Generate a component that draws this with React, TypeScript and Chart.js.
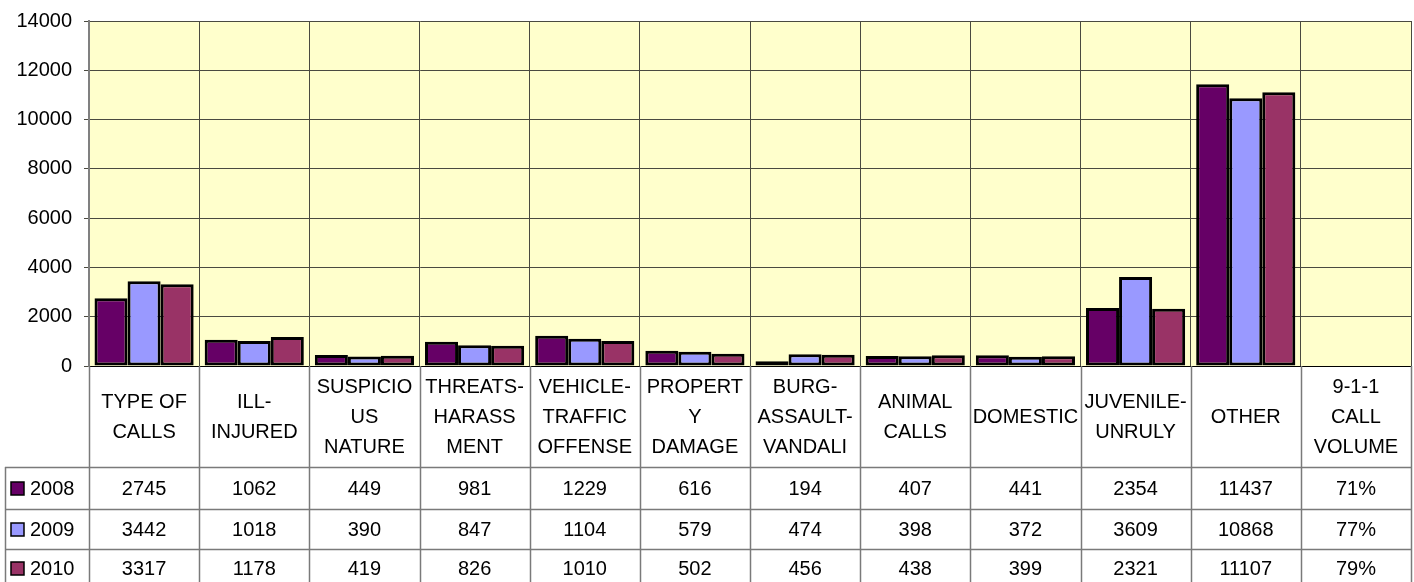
import React, { useEffect, useRef } from "react";
import { Chart, registerables } from "chart.js";

Chart.register(...registerables);

const categories: string[][] = [
  ["TYPE OF", "CALLS"],
  ["ILL-", "INJURED"],
  ["SUSPICIO", "US", "NATURE"],
  ["THREATS-", "HARASS", "MENT"],
  ["VEHICLE-", "TRAFFIC", "OFFENSE"],
  ["PROPERT", "Y", "DAMAGE"],
  ["BURG-", "ASSAULT-", "VANDALI"],
  ["ANIMAL", "CALLS"],
  ["DOMESTIC"],
  ["JUVENILE-", "UNRULY"],
  ["OTHER"],
  ["9-1-1", "CALL", "VOLUME"],
];

const seriesNames = ["2008", "2009", "2010"];
const values2008: (number | null)[] = [2745, 1062, 449, 981, 1229, 616, 194, 407, 441, 2354, 11437, null];
const values2009: (number | null)[] = [3442, 1018, 390, 847, 1104, 579, 474, 398, 372, 3609, 10868, null];
const values2010: (number | null)[] = [3317, 1178, 419, 826, 1010, 502, 456, 438, 399, 2321, 11107, null];
const callVolume = ["71%", "77%", "79%"];
const seriesColors = ["#660066", "#9999FF", "#993366"];

const yTicks = [0, 2000, 4000, 6000, 8000, 10000, 12000, 14000];

const FONT = "'Liberation Sans', Arial, sans-serif";
const FONT_SIZE = 20;

export default function App() {
  const ref = useRef<HTMLCanvasElement | null>(null);

  useEffect(() => {
    document.body.style.margin = "0";
    const canvas = ref.current;
    if (!canvas) return;
    const allValues = [values2008, values2009, values2010];

    const bgPlugin = {
      id: "plotBg",
      beforeDraw(chart: any) {
        const { ctx, chartArea } = chart;
        ctx.save();
        ctx.fillStyle = "#FFFFCC";
        ctx.fillRect(chartArea.left, chartArea.top, chartArea.right - chartArea.left, chartArea.bottom - chartArea.top);
        ctx.restore();
      },
    };

    const tablePlugin = {
      id: "dataTable",
      afterDraw(chart: any) {
        const { ctx, chartArea } = chart;
        const x = chart.scales.x;
        const n = categories.length;
        const bounds: number[] = [];
        for (let i = 0; i <= n; i++) {
          if (i === 0) bounds.push(chartArea.left);
          else if (i === n) bounds.push(chartArea.right);
          else bounds.push((x.getPixelForValue(i - 1) + x.getPixelForValue(i)) / 2);
        }
        const top = chartArea.bottom;
        const headerBottom = top + 101;
        const rowLines = [headerBottom, headerBottom + 42, headerBottom + 82];
        const bottom = chart.height + 2;
        const leftEdge = 5;
        ctx.save();
        ctx.strokeStyle = "#7a7a7a";
        ctx.lineWidth = 1.5;
        for (let i = 0; i <= n; i++) {
          ctx.beginPath();
          ctx.moveTo(Math.round(bounds[i]) + 0.5, top);
          ctx.lineTo(Math.round(bounds[i]) + 0.5, bottom);
          ctx.stroke();
        }
        ctx.beginPath();
        ctx.moveTo(leftEdge + 0.5, headerBottom);
        ctx.lineTo(leftEdge + 0.5, bottom);
        ctx.stroke();
        for (const y of rowLines) {
          ctx.beginPath();
          ctx.moveTo(leftEdge, y + 0.5);
          ctx.lineTo(chartArea.right, y + 0.5);
          ctx.stroke();
        }
        ctx.fillStyle = "#000";
        ctx.font = `${FONT_SIZE}px ${FONT}`;
        ctx.textAlign = "center";
        ctx.textBaseline = "middle";
        const headerMid = (top + headerBottom) / 2;
        categories.forEach((lines, i) => {
          const cx = (bounds[i] + bounds[i + 1]) / 2;
          const lh = 30;
          const start = headerMid - ((lines.length - 1) * lh) / 2;
          lines.forEach((ln, j) => ctx.fillText(ln, cx, start + j * lh + 1));
        });
        const rowCenters = [rowLines[0] + 21, rowLines[1] + 20, rowLines[2] + 19];
        allValues.forEach((vals, r) => {
          const cy = rowCenters[r];
          ctx.fillStyle = seriesColors[r];
          ctx.fillRect(11, cy - 6, 13, 13);
          ctx.strokeStyle = "#000";
          ctx.lineWidth = 1.5;
          ctx.strokeRect(11, cy - 6, 13, 13);
          ctx.fillStyle = "#000";
          ctx.textAlign = "left";
          ctx.fillText(seriesNames[r], 30, cy + 1);
          ctx.textAlign = "center";
          vals.forEach((v, i) => {
            const cx = (bounds[i] + bounds[i + 1]) / 2;
            const txt = v === null ? callVolume[r] : String(v);
            ctx.fillText(txt, cx, cy + 1);
          });
        });
        ctx.restore();
      },
    };

    const chart = new Chart(canvas, {
      type: "bar",
      data: {
        labels: categories.map((c) => c.join(" ")),
        datasets: allValues.map((vals, i) => ({
          label: seriesNames[i],
          data: vals,
          backgroundColor: seriesColors[i],
          borderColor: "#000",
          borderWidth: 3,
          borderSkipped: false,
          categoryPercentage: 0.9,
          barPercentage: 1,
        })),
      },
      options: {
        animation: false,
        responsive: false,
        maintainAspectRatio: false,
        layout: { padding: { top: 21, right: 3, left: 0, bottom: 0 } },
        plugins: { legend: { display: false }, tooltip: { enabled: false } },
        scales: {
          x: {
            grid: { display: true, offset: true, color: "#4a4a40", lineWidth: 1, drawTicks: false },
            border: { display: true, color: "#000", width: 1 },
            ticks: { display: false },
            afterFit(scale: any) {
              scale.height = 216;
              scale.paddingLeft = 0;
              scale.paddingRight = 0;
            },
          },
          y: {
            min: 0,
            max: 14000,
            afterBuildTicks(scale: any) {
              scale.ticks = yTicks.map((v) => ({ value: v }));
            },
            grid: { color: "#4a4a40", lineWidth: 1, tickLength: 5 },
            border: { display: true, color: "#808080", width: 2 },
            ticks: {
              color: "#000",
              font: { family: FONT, size: FONT_SIZE },
              padding: 12,
              callback: (v: any) => String(v),
            },
            afterFit(scale: any) {
              scale.width = 89;
              scale.paddingTop = 0;
              scale.paddingBottom = 0;
            },
          },
        },
      },
      plugins: [bgPlugin, tablePlugin],
    });
    return () => chart.destroy();
  }, []);

  return <canvas ref={ref} width={1414} height={582} style={{ display: "block" }} />;
}
